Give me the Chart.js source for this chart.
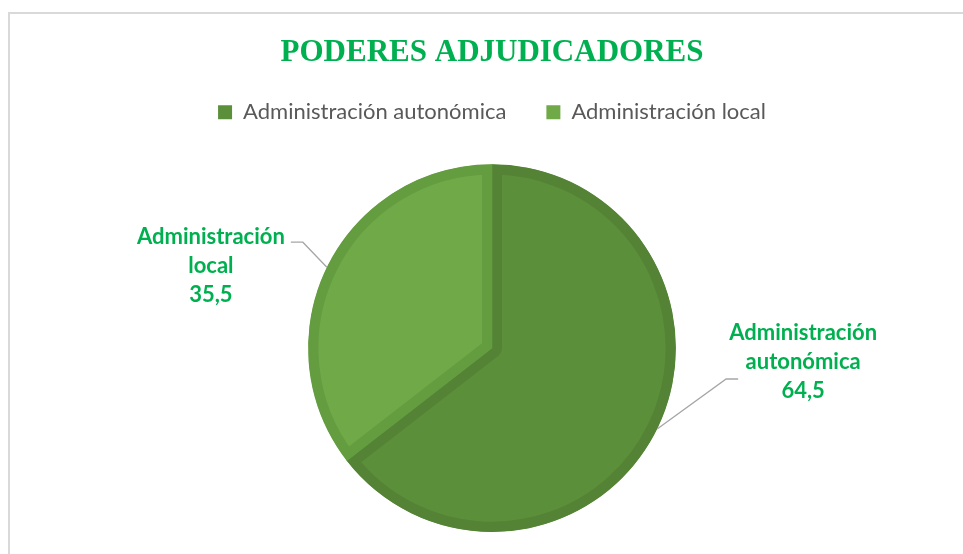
<!DOCTYPE html>
<html>
<head>
<meta charset="utf-8">
<script src="https://cdn.jsdelivr.net/npm/chart.js@4/dist/chart.umd.min.js"></script>
<style>
  html, body { margin: 0; padding: 0; background: #fff; }
  #wrap { position: relative; width: 963px; height: 554px; overflow: hidden; }
  #frame { position: absolute; left: 8px; top: 12px; width: 1000px; height: 600px;
           border-top: 2px solid #d9d9d9; border-left: 2px solid #d9d9d9; }
  #chartBox { position: absolute; left: 0; top: 0; width: 963px; height: 554px; }
</style>
</head>
<body>
<div id="wrap">
  <div id="frame"></div>
  <div id="chartBox"><canvas id="pieChart"></canvas></div>
</div>
<script>
// data
const categories = ["Administración autonómica", "Administración local"];
const values = [64.5, 35.5];

const fillColors = ["#5b8f3a", "#70a947"];
const edgeColors = ["#548335", "#649d40"];
const labelGreen = "#00b050";

// where each data label sits, relative to the slice's outer mid point
const elbowOffsets = [[69, -50], [-24, -25]];
const labelOffsets = [[146, -67], [-116, -1]];

// extra room under the legend so the pie keeps its size
const legendGap = {
  id: "legendGap",
  beforeInit(chart) {
    const fit = chart.legend.fit;
    chart.legend.fit = function () {
      fit.call(this);
      this.height += 31;
    };
  }
};

const pieLabels = {
  id: "pieLabels",
  afterDatasetsDraw(chart) {
    const ctx = chart.ctx;
    const arcs = chart.getDatasetMeta(0).data;
    ctx.save();
    arcs.forEach((arc, i) => {
      const mid = (arc.startAngle + arc.endAngle) / 2;
      const ex = arc.x + Math.cos(mid) * arc.outerRadius;
      const ey = arc.y + Math.sin(mid) * arc.outerRadius;
      const bx = ex + elbowOffsets[i][0];
      const by = ey + elbowOffsets[i][1];
      const dir = elbowOffsets[i][0] > 0 ? 1 : -1;

      ctx.strokeStyle = "#a6a6a6";
      ctx.lineWidth = 1.3;
      ctx.beginPath();
      ctx.moveTo(ex, ey);
      ctx.lineTo(bx, by);
      ctx.lineTo(bx + dir * 12, by);
      ctx.stroke();

      const lines = categories[i].split(" ");
      lines.push(String(values[i]).replace(".", ","));
      ctx.fillStyle = labelGreen;
      ctx.font = "bold 22px Lato";
      ctx.textAlign = "center";
      ctx.textBaseline = "middle";
      const cx = ex + labelOffsets[i][0];
      const cy = ey + labelOffsets[i][1];
      lines.forEach((t, k) => {
        ctx.fillText(t, cx, cy + (k - 1) * 29);
      });
    });
    ctx.restore();
  }
};

new Chart(document.getElementById("pieChart"), {
  type: "pie",
  data: {
    labels: categories,
    datasets: [{
      data: values,
      backgroundColor: fillColors,
      borderColor: edgeColors,
      borderWidth: 10,
      borderAlign: "inner"
    }]
  },
  options: {
    responsive: true,
    maintainAspectRatio: false,
    animation: false,
    layout: { padding: { left: 21, right: 0, top: 0, bottom: 22 } },
    plugins: {
      title: {
        display: true,
        text: "PODERES ADJUDICADORES",
        color: labelGreen,
        font: { family: "'Liberation Serif'", size: 31, weight: "bold" },
        padding: { top: 34, bottom: -10 }
      },
      legend: {
        position: "top",
        labels: {
          color: "#595959",
          font: { family: "Lato", size: 22 },
          boxWidth: 14,
          boxHeight: 14,
          padding: 40,
          generateLabels() {
            return categories.map((name, i) => ({
              text: name,
              fillStyle: fillColors[i],
              strokeStyle: fillColors[i],
              lineWidth: 0,
              fontColor: "#595959",
              hidden: false,
              index: i
            }));
          }
        }
      },
      tooltip: { enabled: false }
    }
  },
  plugins: [legendGap, pieLabels]
});
</script>
</body>
</html>
